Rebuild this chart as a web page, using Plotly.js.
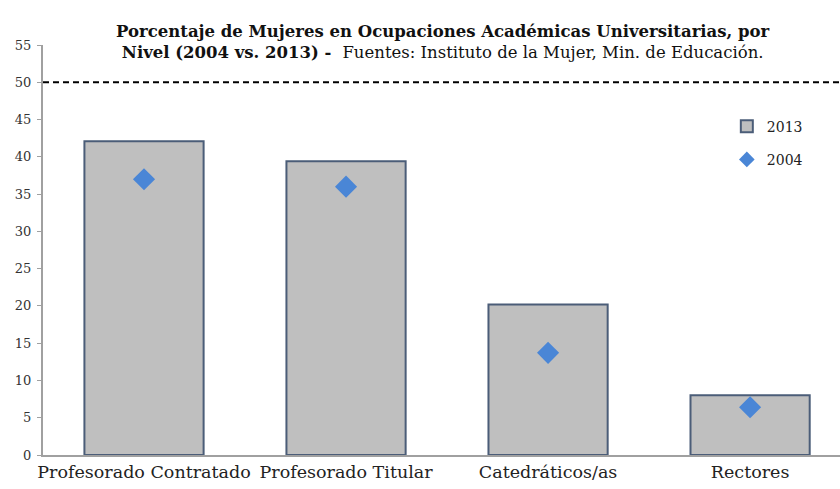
<!DOCTYPE html>
<html>
<head>
<meta charset="utf-8">
<script src="https://cdn.plot.ly/plotly-3.0.1.min.js"></script>
<style>html,body{margin:0;padding:0;background:#fff;}#chart{width:840px;height:489px;}</style>
</head>
<body>
<div id="chart"></div>
<script>
const categories = ["Profesorado Contratado", "Profesorado Titular", "Catedráticos/as", "Rectores"];
const values2013 = [42.1, 39.4, 20.2, 8.0];
const values2004 = [37.0, 36.0, 13.7, 6.4];
const parityLevel = 50;
const yTicks = [0, 5, 10, 15, 20, 25, 30, 35, 40, 45, 50, 55];

const serif = "DejaVu Serif, Liberation Serif, serif";

const traces = [
  {
    type: "bar",
    name: "2013",
    legendgroup: "a",
    x: categories,
    y: values2013,
    width: 0.59,
    marker: {color: "#bfbfbf", line: {color: "#4b5d78", width: 2}},
    hoverinfo: "skip"
  },
  {
    type: "scatter",
    mode: "markers",
    name: "2004",
    legendgroup: "b",
    x: categories,
    y: values2004,
    marker: {symbol: "diamond", size: 17, color: "#4a86d6"},
    hoverinfo: "skip"
  }
];

const layout = {
  width: 840,
  height: 489,
  margin: {l: 43, r: 0, t: 45, b: 34},
  paper_bgcolor: "#ffffff",
  plot_bgcolor: "#ffffff",
  showlegend: true,
  legend: {
    x: 0.858, y: 0.84, xanchor: "left", yanchor: "top",
    font: {family: serif, size: 14, color: "#222"},
    bgcolor: "rgba(0,0,0,0)",
    itemwidth: 30,
    itemsizing: "constant",
    traceorder: "grouped",
    tracegroupgap: 12
  },
  title: {
    text: "<b>Porcentaje de Mujeres en Ocupaciones Académicas Universitarias, por</b><br><b>Nivel (2004 vs. 2013) - </b> Fuentes: Instituto de la Mujer, Min. de Educación.",
    font: {family: serif, size: 16.5, color: "#111"},
    x: 0.527, xref: "container", xanchor: "center",
    y: 0.925, yref: "container", yanchor: "top"
  },
  xaxis: {
    type: "category",
    range: [-0.5, 3.445],
    showline: true, linecolor: "#a0a0a0", linewidth: 2,
    ticks: "", showgrid: false, zeroline: false,
    tickfont: {family: serif, size: 17.5, color: "#222"},
    fixedrange: true
  },
  yaxis: {
    range: [0, 55],
    tickvals: yTicks,
    ticktext: yTicks.map(String),
    ticks: "outside", ticklen: 4, tickcolor: "#a0a0a0", tickwidth: 1,
    ticklabelstandoff: 3,
    showline: true, linecolor: "#a0a0a0", linewidth: 2,
    showgrid: false, zeroline: false,
    tickfont: {family: serif, size: 13, color: "#333"},
    fixedrange: true
  },
  shapes: [
    {
      type: "line", xref: "paper", yref: "y",
      x0: 0, x1: 1, y0: parityLevel, y1: parityLevel,
      line: {color: "#000", width: 2, dash: "6px,4px"}
    }
  ]
};

Plotly.newPlot("chart", traces, layout, {displayModeBar: false, staticPlot: true});
</script>
</body>
</html>
